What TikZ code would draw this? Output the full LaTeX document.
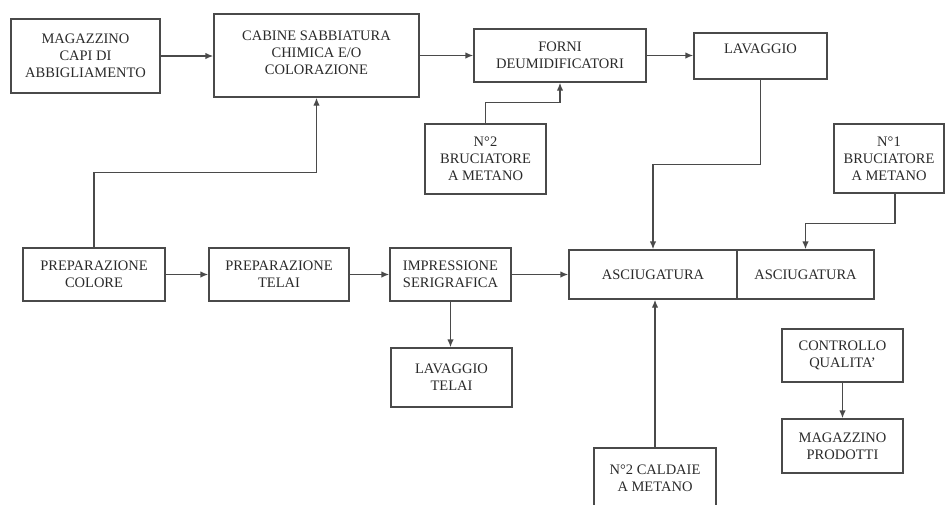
\documentclass[tikz,border=0pt]{standalone}
\usepackage{fontspec}
\setmainfont{Liberation Serif}
\usetikzlibrary{arrows.meta}
\definecolor{lncol}{HTML}{4a4a4a}
\definecolor{tx}{HTML}{2a2a2a}
\tikzset{
  box/.style={draw=lncol, line width=1.4pt, inner sep=0pt, align=center, text=tx,
    font=\fontsize{14.5}{17}\selectfont},
  arr/.style={draw=lncol, line width=1.4pt, -{Latex[length=8pt,width=6.5pt]}}
}
\begin{document}
\begin{tikzpicture}[x=1pt,y=-1pt]
\useasboundingbox (0,0) rectangle (946,504);
\clip (0,0) rectangle (946,504);
\fill[white] (0,0) rectangle (946,504);
% boxes
\node[box, minimum width=149pt, minimum height=74pt] (mag) at (85.5,56) {MAGAZZINO\\CAPI DI\\ABBIGLIAMENTO};
\node[box, minimum width=205pt, minimum height=83pt] (cab) at (316.5,55.5) {CABINE SABBIATURA\\CHIMICA E/O\\COLORAZIONE\\[-12pt]\mbox{}};
\node[box, minimum width=172pt, minimum height=53pt] (forni) at (560,55.5) {FORNI\\DEUMIDIFICATORI};
\node[box, minimum width=133pt, minimum height=46pt] (lav) at (760.5,56) {LAVAGGIO\\[-3pt]\mbox{}};
\node[box, minimum width=121pt, minimum height=70pt] (bru2) at (485.5,159) {N°2\\BRUCIATORE\\A METANO};
\node[box, minimum width=110pt, minimum height=69pt] (bru1) at (889,158.5) {N°1\\BRUCIATORE\\A METANO};
\node[box, minimum width=142pt, minimum height=53pt] (prepcol) at (94,274.5) {PREPARAZIONE\\COLORE};
\node[box, minimum width=140pt, minimum height=53pt] (preptel) at (279,274.5) {PREPARAZIONE\\TELAI};
\node[box, minimum width=121pt, minimum height=53pt] (impr) at (450.5,274.5) {IMPRESSIONE\\SERIGRAFICA};
\node[box, minimum width=121pt, minimum height=59pt] (lavtel) at (451.5,377.5) {LAVAGGIO\\TELAI};
\node[box, minimum width=168pt, minimum height=49pt] (asc1) at (653,274.5) {ASCIUGATURA};
\node[box, minimum width=137pt, minimum height=49pt] (asc2) at (805.5,274.5) {ASCIUGATURA};
\node[box, minimum width=122pt, minimum height=60pt] (cald) at (655,478) {N°2 CALDAIE\\A METANO};
\node[box, minimum width=121pt, minimum height=53pt] (ctrl) at (842.5,355.5) {CONTROLLO\\QUALITA’};
\node[box, minimum width=121pt, minimum height=54pt] (magprod) at (842.5,446) {MAGAZZINO\\PRODOTTI};
% connectors
\draw[arr] (mag.east) -- (mag.east -| cab.west);
\draw[arr] (cab.east |- forni.west) -- (forni.west);
\draw[arr] (forni.east) -- (forni.east -| lav.west);
\draw[arr] (bru2.north) -- ++(0,-21) -| (forni.south);
\draw[arr] (lav.south) -- ++(0,85) -| (asc1.north);
\draw[arr] ([xshift=6pt]bru1.south) -- ++(0,29.5) -| (asc2.north);
\draw[arr] (prepcol.north) -- ++(0,-75) -| (cab.south);
\draw[arr] (prepcol.east) -- (preptel.west);
\draw[arr] (preptel.east) -- (impr.west);
\draw[arr] (impr.east) -- (impr.east -| asc1.west);
\draw[arr] (impr.south) -- (impr.south |- lavtel.north);
\draw[arr] (cald.north) -- (cald.north |- asc1.south);
\draw[arr] (ctrl.south) -- (ctrl.south |- magprod.north);
\end{tikzpicture}
\end{document}
